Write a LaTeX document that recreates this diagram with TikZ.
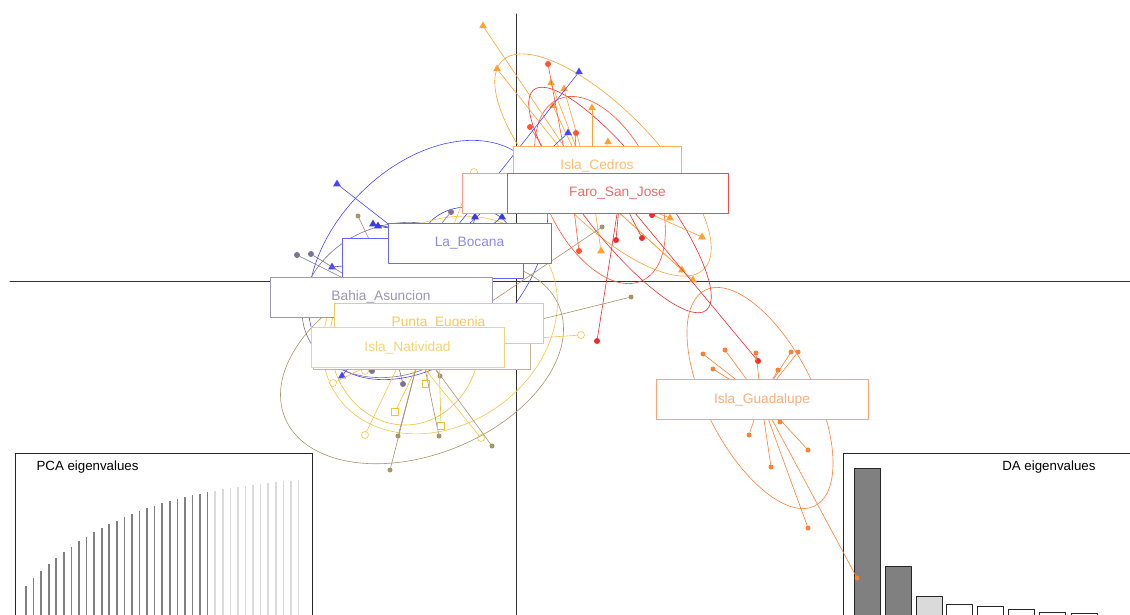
\documentclass[tikz,border=0pt]{standalone}
\usepackage{fontspec}
\setmainfont{Liberation Sans}
\usepackage{tikz}
\usetikzlibrary{shapes.geometric}
\definecolor{Cedros}{HTML}{FFA033}
\definecolor{RedHid}{HTML}{FF5533}
\definecolor{Faro}{HTML}{EE2A2A}
\definecolor{Guad}{HTML}{FF7F33}
\definecolor{Bocana}{HTML}{3A3AE8}
\definecolor{BlueHid}{HTML}{4646FF}
\definecolor{Bahia}{HTML}{7C7498}
\definecolor{TanHid}{HTML}{A89468}
\definecolor{Punta}{HTML}{F0C030}
\definecolor{Nativ}{HTML}{F5C542}
\definecolor{DarkBar}{HTML}{808080}
\definecolor{LightBar}{HTML}{DADADA}

\begin{document}
\begin{tikzpicture}[line cap=round,line join=round,x=1pt,y=-1pt,
  spoke/.style={line width=.6pt},
  oval/.style={line width=.6pt},
  tri/.style={regular polygon,regular polygon sides=3,fill=#1,inner sep=0pt,minimum size=9pt},
  dot/.style={circle,fill=#1,inner sep=0pt,minimum size=6pt},
  pip/.style={circle,fill=#1,inner sep=0pt,minimum size=5pt},
  ring/.style={circle,draw=#1,line width=.6pt,inner sep=0pt,minimum size=7pt},
  sq/.style={rectangle,draw=#1,line width=.6pt,inner sep=0pt,minimum size=7pt},
  lab/.style={draw=#1,fill=white,line width=.8pt,minimum height=40pt,inner sep=0pt,
    font=\fontsize{13.7}{16}\selectfont}]
\useasboundingbox (0,0) rectangle (1130,615);
\clip (0,0) rectangle (1130,615);
% axes
\draw[black!80,line width=1pt] (10,281) -- (1130,281);
\draw[black!80,line width=1pt] (516,14) -- (516,615);
% PCA eigenvalues inset
\draw[black!85,line width=.8pt] (15,453) rectangle (312,630);
\node[anchor=west,font=\fontsize{13.3}{15}\selectfont] (pcatitle) at (33,467) {PCA eigenvalues};
\foreach \i in {0,...,24}
  \draw[DarkBar,line width=1.6pt,line cap=butt] (26+7.57*\i,620) -- (26+7.57*\i,{615-29-106*(1-exp(-0.07*\i))/0.92});
\foreach \i in {25,...,36}
  \draw[LightBar,line width=1.6pt,line cap=butt] (26+7.57*\i,620) -- (26+7.57*\i,{615-29-106*(1-exp(-0.07*\i))/0.92});
% DA eigenvalues inset
\draw[black!85,line width=.8pt] (843,453) rectangle (1140,630);
\node[anchor=east,font=\fontsize{13.3}{15}\selectfont] (datitle) at (1099,467) {DA eigenvalues};
\foreach \x/\t/\c in {854/468/DarkBar,885/566/DarkBar,916/596/LightBar,946/604/white,977/606/white,1008/609/white,1039/612/white,1071/613/white}
  \draw[black!85,line width=.8pt,fill=\c] (\x,\t) rectangle (\x+26,625);
% group centres
\coordinate (cedros) at (592,188);
\coordinate (redhid) at (572,193);
\coordinate (faro) at (620,195);
\coordinate (guad) at (761,399);
\coordinate (bocana) at (469,243);
\coordinate (bluehid) at (432,258);
\coordinate (bahia) at (381,297);
\coordinate (tanhid) at (421,349);
\coordinate (punta) at (438,323);
\coordinate (nativ) at (407,347);
% inertia ellipses
\draw[oval,BlueHid,rotate around={45:(428,260)}] (428,260) ellipse [x radius=140,y radius=95];
\draw[oval,Bocana] (468,240) ellipse [x radius=45,y radius=33];
\draw[oval,Cedros,rotate around={-46:(603,165)}] (603,165) ellipse [x radius=145,y radius=55];
\draw[oval,RedHid,rotate around={-65:(600,190)}] (600,190) ellipse [x radius=100,y radius=55];
\draw[oval,Faro,rotate around={-52:(620,200)}] (620,200) ellipse [x radius=140,y radius=38];
\draw[oval,Guad,rotate around={-63:(760,398)}] (760,398) ellipse [x radius=121,y radius=54];
\draw[oval,TanHid,rotate around={22:(422,362)}] (422,362) ellipse [x radius=148,y radius=92];
\draw[oval,Bahia,rotate around={20:(395,300)}] (395,300) ellipse [x radius=95,y radius=75];
\draw[oval,Nativ,rotate around={35:(440,325)}] (440,325) ellipse [x radius=125,y radius=100];
\draw[oval,Punta] (405,340) ellipse [x radius=75,y radius=85];
% individuals
\foreach \p [count=\i] in {(483,26),(497,69),(551,83),(564,89),(553,106),(592,108),(608,142),(670,218),(702,237),(601,251),(682,270),(693,280)}
  {\node[tri=Cedros] (ce\i) at \p {}; \draw[spoke,Cedros] (cedros) -- (ce\i);}
\foreach \p [count=\i] in {(548,64),(530,127),(576,133),(579,251)}
  {\node[dot=RedHid] (rh\i) at \p {}; \draw[spoke,RedHid] (redhid) -- (rh\i);}
\foreach \p [count=\i] in {(616,240),(642,238),(652,215),(597,341),(758,361)}
  {\node[dot=Faro] (fa\i) at \p {}; \draw[spoke,Faro] (faro) -- (fa\i);}
\foreach \p [count=\i] in {(703,354),(725,350),(713,369),(756,353),(778,370),(791,352),(798,352),(780,422),(749,435),(808,450),(771,467),(808,528),(857,578)}
  {\node[pip=Guad] (gu\i) at \p {}; \draw[spoke,Guad] (guad) -- (gu\i);}
\foreach \p [count=\i] in {(579,72),(568,133),(337,184),(332,267),(342,376)}
  {\node[tri=BlueHid] (bh\i) at \p {}; \draw[spoke,BlueHid] (bluehid) -- (bh\i);}
\foreach \p [count=\i] in {(373,224),(378,226),(475,217),(502,217)}
  {\node[tri=Bocana] (bo\i) at \p {}; \draw[spoke,Bocana] (bocana) -- (bo\i);}
\foreach \p [count=\i] in {(297,255),(311,254),(372,371),(403,384),(451,212)}
  {\node[dot=Bahia] (ba\i) at \p {}; \draw[spoke,Bahia] (bahia) -- (ba\i);}
\foreach \p [count=\i] in {(358,216),(602,227),(631,297),(390,470),(398,436),(439,436),(492,446),(440,376)}
  {\node[pip=TanHid] (ta\i) at \p {}; \draw[spoke,TanHid] (tanhid) -- (ta\i);}
\foreach \p [count=\i] in {(395,412),(441,426),(426,384)}
  {\node[sq=Punta] (pu\i) at \p {}; \draw[spoke,Punta] (punta) -- (pu\i);}
\foreach \p [count=\i] in {(365,435),(333,383),(481,438),(581,335),(474,172),(365,371)}
  {\node[ring=Nativ] (na\i) at \p {}; \draw[spoke,Nativ] (nativ) -- (na\i);}
% group labels
\node[lab=Cedros!85,text=Cedros!70,minimum width=168pt] (lbcedros) at (597,166) {Isla\_Cedros};
\node[lab=RedHid!60,minimum width=228pt] (lbredhid) at (576,193.5) {};
\node[lab=Faro!85,text=Faro!70,minimum width=221pt] (lbfaro) at (617.5,193.5) {Faro\_San\_Jose};
\node[lab=Guad!70,text=Guad!65,minimum width=212pt] (lbguad) at (762,399.5) {Isla\_Guadalupe};
\node[lab=BlueHid!85,minimum width=181pt] (lbbluehid) at (432.5,258) {};
\node[lab=Bocana!75,text=Bocana!60,minimum width=163pt] (lbbocana) at (469.5,243) {La\_Bocana};
\node[lab=Bahia!75,text=Bahia!75,minimum width=222pt] (lbbahia) at (381,297) {Bahia\_Asuncion};
\node[lab=TanHid!70,minimum width=217pt] (lbtanhid) at (421.5,349) {};
\node[lab=Punta!80,text=Punta!80,minimum width=209pt] (lbpunta) at (438.5,323) {Punta\_Eugenia};
\node[lab=Nativ!75,text=Nativ!75,minimum width=193pt] (lbnativ) at (407.5,347.5) {Isla\_Natividad};
\end{tikzpicture}
\end{document}
